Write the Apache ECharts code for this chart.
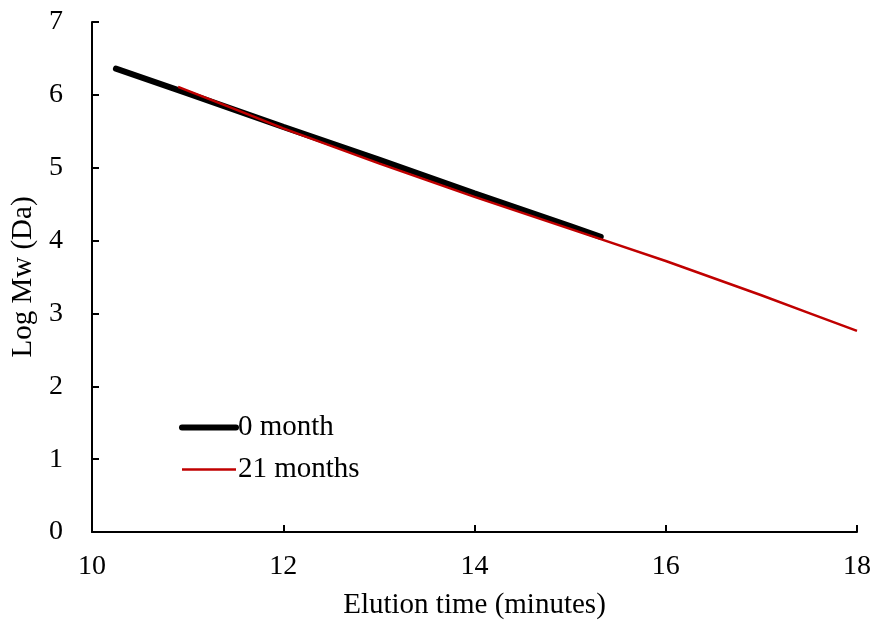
<!DOCTYPE html>
<html><head><meta charset="utf-8">
<script src="https://cdn.jsdelivr.net/npm/echarts@6/dist/echarts.min.js"></script>
<style>html,body{margin:0;padding:0;background:#fff}#c{width:876px;height:631px}</style>
</head><body><div id="c"></div>
<script>
const xTicks = [10, 12, 14, 16, 18];
const yTicks = [0, 1, 2, 3, 4, 5, 6, 7];
const month0X = [10.25, 11, 12, 13, 14, 15, 15.32];
const month0Y = [6.36, 6.02, 5.56, 5.11, 4.65, 4.20, 4.05];
const month21X = [10.9, 11.5, 12, 13, 14, 15, 15.32, 16, 17, 17.5, 18];
const month21Y = [6.11, 5.80, 5.54, 5.06, 4.60, 4.16, 4.02, 3.72, 3.25, 3.005, 2.76];
const seriesNames = ['0 month', '21 months'];

const font = 'Liberation Serif';
const chart = echarts.init(document.getElementById('c'));
chart.setOption({
  animation: false,
  textStyle: { fontFamily: font, color: '#000' },
  grid: { left: 92, right: 19, top: 22, bottom: 99 },
  legend: {
    orient: 'vertical', left: 174, top: 408, itemGap: 13, itemWidth: 54, itemHeight: 14,
    textStyle: { fontFamily: font, fontSize: 29, color: '#000', padding: [0,0,0,-3] },
    itemStyle: { opacity: 0 },
    data: [
      { name: seriesNames[0], lineStyle: { width: 6, color: '#000', cap: 'round' }, itemStyle: { opacity: 0 } },
      { name: seriesNames[1], lineStyle: { width: 2.5, color: '#C00000' }, itemStyle: { opacity: 0 } }
    ]
  },
  xAxis: {
    type: 'value', min: xTicks[0], max: xTicks[xTicks.length-1], interval: 2,
    name: 'Elution time (minutes)', nameLocation: 'middle', nameGap: 59,
    nameTextStyle: { fontFamily: font, fontSize: 29, color: '#000' },
    axisLine: { lineStyle: { color: '#000', width: 2 } },
    axisTick: { inside: true, length: 7, lineStyle: { color: '#000', width: 2 } },
    axisLabel: { fontFamily: font, fontSize: 28, color: '#000', margin: 21 },
    splitLine: { show: false }
  },
  yAxis: {
    type: 'value', min: yTicks[0], max: yTicks[yTicks.length-1], interval: 1,
    name: 'Log Mw (Da)', nameLocation: 'middle', nameGap: 50,
    nameTextStyle: { fontFamily: font, fontSize: 29, color: '#000' },
    axisLine: { show: true, lineStyle: { color: '#000', width: 2 } },
    axisTick: { show: true, inside: true, length: 7, lineStyle: { color: '#000', width: 2 } },
    axisLabel: { fontFamily: font, fontSize: 28, color: '#000', margin: 29 },
    splitLine: { show: false }
  },
  series: [
    {
      name: seriesNames[0], type: 'line', showSymbol: false, symbol: 'none', z: 2,
      data: month0X.map((x, i) => [x, month0Y[i]]),
      lineStyle: { color: '#000', width: 6, cap: 'round' },
      itemStyle: { color: '#000' }
    },
    {
      name: seriesNames[1], type: 'line', showSymbol: false, symbol: 'none', z: 3,
      data: month21X.map((x, i) => [x, month21Y[i]]),
      lineStyle: { color: '#C00000', width: 2.5 },
      itemStyle: { color: '#C00000' }
    }
  ]
});
</script></body></html>
